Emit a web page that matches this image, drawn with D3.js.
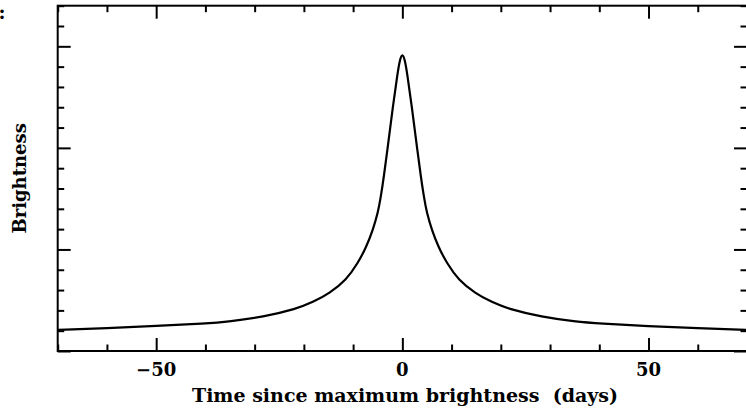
<!DOCTYPE html>
<html>
<head>
<meta charset="utf-8">
<script src="https://cdn.jsdelivr.net/npm/d3@7"></script>
<style>
  html, body { margin: 0; padding: 0; background: #fff; }
  svg { display: block; }
  text { font-family: "DejaVu Serif", serif; font-weight: bold; fill: #000; }
</style>
</head>
<body>
<svg width="746" height="409"></svg>
<script>
// light curve
const days = [-70, -60, -50, -40, -35.1, -28.3, -21.5, -18.2, -14.8, -11.4, -9.04, -7.3, -6.0, -4.98, -4.37, -3.8, -2.78, -1.93, -0.98, -0.5,
  0, 0.5, 0.98, 1.93, 2.78, 3.8, 4.37, 4.98, 6.0, 7.3, 9.04, 11.4, 14.8, 18.2, 21.5, 28.3, 35.1, 40, 50, 60, 70];
const brightness = [0.208, 0.225, 0.246, 0.270, 0.290, 0.335, 0.415, 0.48, 0.568, 0.699, 0.864, 1.027, 1.191, 1.356, 1.519, 1.70, 2.078, 2.405, 2.734, 2.87,
  2.93, 2.87, 2.734, 2.405, 2.078, 1.70, 1.519, 1.356, 1.191, 1.027, 0.864, 0.699, 0.568, 0.48, 0.415, 0.335, 0.290, 0.270, 0.244, 0.225, 0.208];

const xMajor = [-50, 0, 50];
const xMinor = [-70, -60, -40, -30, -20, -10, 10, 20, 30, 40, 60, 70];
const yMajor = [0, 1, 2, 3];
const yMinor = d3.range(0, 3.41, 0.2).filter(v => Math.abs(v - Math.round(v)) > 0.01);

const xLabel = "Time since maximum brightness\u00a0\u00a0(days)";
const yLabel = "Brightness";

const svg = d3.select("svg");
const mLeft = 57.7, mRight = 747, mTop = 5.7, mBottom = 351;

const x = d3.scaleLinear().domain([-70, 70]).range([mLeft, mRight]);
const y = d3.scaleLinear().domain([0, 3.4]).range([mBottom, mTop]);

function tickAxis(axisFn, scale, values, size, transform) {
  svg.append("g")
    .attr("transform", transform)
    .call(axisFn(scale).tickValues(values).tickSize(size).tickFormat(""))
    .call(g => g.select(".domain").remove())
    .call(g => g.selectAll("line").attr("stroke", "#000").attr("stroke-width", 2));
}

// ticks on all four sides, pointing inward
tickAxis(d3.axisBottom, x, xMinor, -6.5, `translate(0,${mBottom})`);
tickAxis(d3.axisBottom, x, xMajor, -13, `translate(0,${mBottom})`);
tickAxis(d3.axisTop, x, xMinor, -6.5, `translate(0,${mTop})`);
tickAxis(d3.axisTop, x, xMajor, -13, `translate(0,${mTop})`);
tickAxis(d3.axisLeft, y, yMinor, -6.5, `translate(${mLeft},0)`);
tickAxis(d3.axisLeft, y, yMajor, -13, `translate(${mLeft},0)`);
tickAxis(d3.axisRight, y, yMinor, -6.5, `translate(${mRight},0)`);
tickAxis(d3.axisRight, y, yMajor, -13, `translate(${mRight},0)`);

// frame
svg.append("rect")
  .attr("x", mLeft).attr("y", mTop)
  .attr("width", mRight - mLeft).attr("height", mBottom - mTop)
  .attr("fill", "none").attr("stroke", "#000").attr("stroke-width", 2);

// tick labels
svg.append("g")
  .selectAll("text")
  .data(xMajor)
  .enter()
  .append("text")
  .attr("x", d => x(d))
  .attr("y", 376)
  .attr("text-anchor", "middle")
  .attr("font-size", "18px")
  .text(d => d < 0 ? "\u2212" + Math.abs(d) : d);

const line = d3.line()
  .x((d, i) => x(days[i]))
  .y(d => y(d))
  .curve(d3.curveBasis);

svg.append("path")
  .datum(brightness)
  .attr("fill", "none")
  .attr("stroke", "#000")
  .attr("stroke-width", 2.2)
  .attr("d", line);

svg.append("text")
  .attr("x", 405)
  .attr("y", 402)
  .attr("text-anchor", "middle")
  .attr("font-size", "19px")
  .text(xLabel);

svg.append("text")
  .attr("transform", `translate(26,${(mTop + mBottom) / 2}) rotate(-90)`)
  .attr("text-anchor", "middle")
  .attr("font-size", "18px")
  .text(yLabel);

svg.append("text")
  .attr("x", 2)
  .attr("y", 18.5)
  .attr("text-anchor", "middle")
  .attr("font-size", "19px")
  .text(":");
</script>
</body>
</html>
